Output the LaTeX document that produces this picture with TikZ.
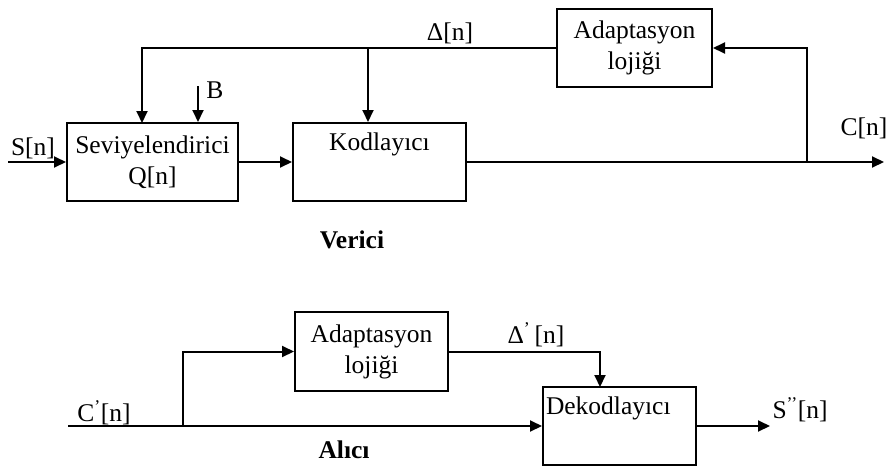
\documentclass[tikz,border=0pt]{standalone}
\usepackage{fontspec}
\setmainfont{Liberation Serif}
\usetikzlibrary{arrows.meta}
\begin{document}
\begin{tikzpicture}[x=1pt,y=-1pt,
  every node/.style={font=\fontsize{25.5}{31}\selectfont},
  blk/.style={draw,line width=2pt,rectangle,inner sep=2pt,align=center},
  arr/.style={line width=2pt,-{Triangle[length=12pt,width=11pt]}},
  lbl/.style={inner sep=0pt}]
\useasboundingbox (0,0) rectangle (894,466);
% Verici
\node[blk,minimum width=171pt,minimum height=78pt] (sev) at (152.5,162) {Seviyelendirici\\Q[n]};
\node[blk,minimum width=173pt,minimum height=78pt] (kod) at (379.5,162) {Kodlayıcı\\\strut};
\node[blk,minimum width=155pt,minimum height=78pt] (adT) at (634.5,48) {Adaptasyon\\lojiği};
\coordinate (sin) at (8,162);
\coordinate (cout) at (884,162);
\coordinate (tap) at (807,162);
\coordinate (q1) at (142,123);
\coordinate (tap2) at (368,48);
\coordinate (bt) at (198,86);
\draw[arr] (sin) -- (sev.west);
\draw[arr] (sev.east) -- (kod.west);
\draw[arr] (kod.east) -- (cout);
\draw[arr] (tap) |- (adT.east);
\draw[arr] (adT.west) -| (q1);
\draw[arr] (tap2) -- (tap2 |- kod.north);
\draw[arr] (bt) -- (bt |- sev.north);
\node[lbl] (lS) at (33,148) {S[n]};
\node[lbl] (lB) at (215,90) {B};
\node[lbl] (lD) at (450,33) {Δ[n]};
\node[lbl] (lC) at (864,128) {C[n]};
\node[lbl] (ver) at (352,240) {\bfseries Verici};
% Alici
\node[blk,minimum width=153pt,minimum height=79pt] (adB) at (371.5,351.5) {Adaptasyon\\lojiği};
\node[blk,minimum width=153pt,minimum height=78pt,align=left,text width=147pt] (dek) at (619.5,426) {Dekodlayıcı\\\strut};
\coordinate (cin) at (68,426);
\coordinate (tap3) at (183,426);
\coordinate (dk) at (600,387);
\coordinate (sout) at (770,426);
\draw[arr] (cin) -- (dek.west);
\draw[arr] (tap3) |- (adB.west);
\draw[arr] (adB.east) -| (dk);
\draw[arr] (dek.east) -- (sout);
\node[lbl] (lC2) at (104,413) {C\textsuperscript{’}[n]};
\node[lbl] (lD2) at (536,335) {Δ\textsuperscript{’}\,[n]};
\node[lbl] (lS2) at (800,410) {S\textsuperscript{’’}[n]};
\node[lbl] (alc) at (344,450) {\bfseries Alıcı};
\end{tikzpicture}
\end{document}
